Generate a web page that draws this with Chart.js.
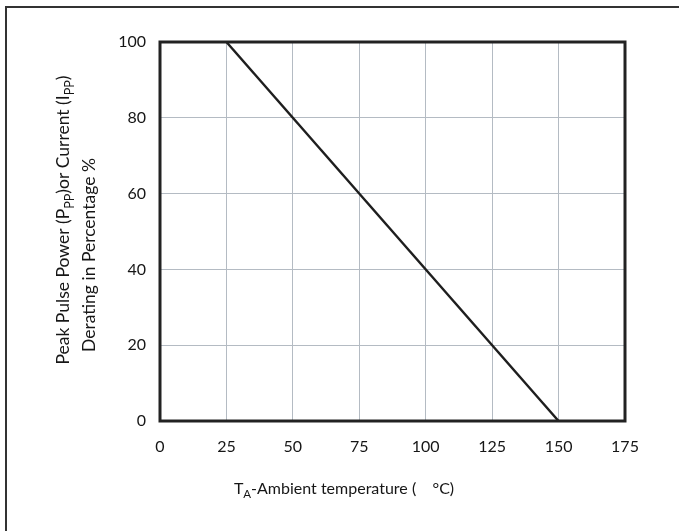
<!DOCTYPE html>
<html>
<head>
<meta charset="utf-8">
<script src="https://cdn.jsdelivr.net/npm/chart.js@4.4.1/dist/chart.umd.min.js"></script>
<style>
    html, body { margin: 0; padding: 0; background: #fff; }
    #wrap { position: relative; width: 679px; height: 531px; overflow: hidden; }
    #frame {
        position: absolute; left: 5px; top: 6px; width: 700px; height: 560px;
        border-left: 2px solid #333; border-top: 2px solid #333;
    }
    #derating { position: absolute; left: 0; top: 0; }
</style>
</head>
<body>
<div id="wrap">
    <div id="frame"></div>
    <canvas id="derating" width="679" height="531"></canvas>
</div>
<script>
// derating curve: 100% up to 25°C then straight down to 0 at 150°C
const temps = [25, 150]
const derating = [100, 0]

const xTicks = [0, 25, 50, 75, 100, 125, 150, 175]
const yTicks = [0, 20, 40, 60, 80, 100]

const FONT = 'Lato, "Open Sans", sans-serif'
const TEXT = '#161616'

// draws a run of [text, isSub] pieces centred on 0 (baseline at 0)
function drawRuns(ctx, runs, size) {
    let total = 0
    runs.forEach(r => {
        ctx.font = (r[1] ? size * 0.72 : size) + 'px ' + FONT
        total += ctx.measureText(r[0]).width
    })
    let x = -total / 2
    runs.forEach(r => {
        const s = r[1] ? size * 0.72 : size
        ctx.font = s + 'px ' + FONT
        ctx.fillText(r[0], x, r[1] ? size * 0.28 : 0)
        x += ctx.measureText(r[0]).width
    })
}

// axis titles (with subscripts) and the thick plot frame
const extrasPlugin = {
    id: 'extras',
    afterDraw(chart) {
        const ctx = chart.ctx
        const area = chart.chartArea

        ctx.save()
        ctx.strokeStyle = '#222'
        ctx.lineWidth = 3
        ctx.strokeRect(area.left, area.top, area.right - area.left, area.bottom - area.top)
        ctx.restore()

        ctx.save()
        ctx.fillStyle = TEXT
        ctx.textBaseline = 'alphabetic'

        ctx.save()
        ctx.translate(69, 220)
        ctx.rotate(-Math.PI / 2)
        drawRuns(ctx, [['Peak Pulse Power (P', false], ['PP', true], [')or Current (I', false], ['PP', true], [')', false]], 17.5)
        ctx.restore()

        ctx.save()
        ctx.translate(95, 255)
        ctx.rotate(-Math.PI / 2)
        drawRuns(ctx, [['Derating in Percentage %', false]], 17.5)
        ctx.restore()

        ctx.save()
        ctx.translate(344, 494)
        drawRuns(ctx, [['T', false], ['A', true], ['-Ambient temperature (    °C)', false]], 16)
        ctx.restore()

        ctx.restore()
    }
}

new Chart(document.getElementById('derating'), {
    type: 'scatter',
    data: {
        datasets: [{
            data: temps.map((t, i) => ({ x: t, y: derating[i] })),
            showLine: true,
            borderColor: '#1e1e1e',
            borderWidth: 2.4,
            pointRadius: 0,
            fill: false
        }]
    },
    options: {
        responsive: false,
        animation: false,
        layout: { padding: { top: 42, right: 54, left: 0, bottom: 0 } },
        plugins: {
            legend: { display: false },
            tooltip: { enabled: false }
        },
        scales: {
            x: {
                type: 'linear',
                min: 0,
                max: 175,
                afterBuildTicks: scale => { scale.ticks = xTicks.map(v => ({ value: v })) },
                afterFit: scale => { scale.height = 110 },
                grid: { color: '#b4bbc3', lineWidth: 1, drawTicks: false },
                border: { display: false },
                ticks: { padding: 16, color: TEXT, font: { family: FONT, size: 16 } }
            },
            y: {
                min: 0,
                max: 100,
                afterBuildTicks: scale => { scale.ticks = yTicks.map(v => ({ value: v })) },
                afterFit: scale => { scale.width = 160 },
                grid: { color: '#b4bbc3', lineWidth: 1, drawTicks: false },
                border: { display: false },
                ticks: { padding: 14, color: TEXT, font: { family: FONT, size: 16 } }
            }
        }
    },
    plugins: [extrasPlugin]
})
</script>
</body>
</html>
